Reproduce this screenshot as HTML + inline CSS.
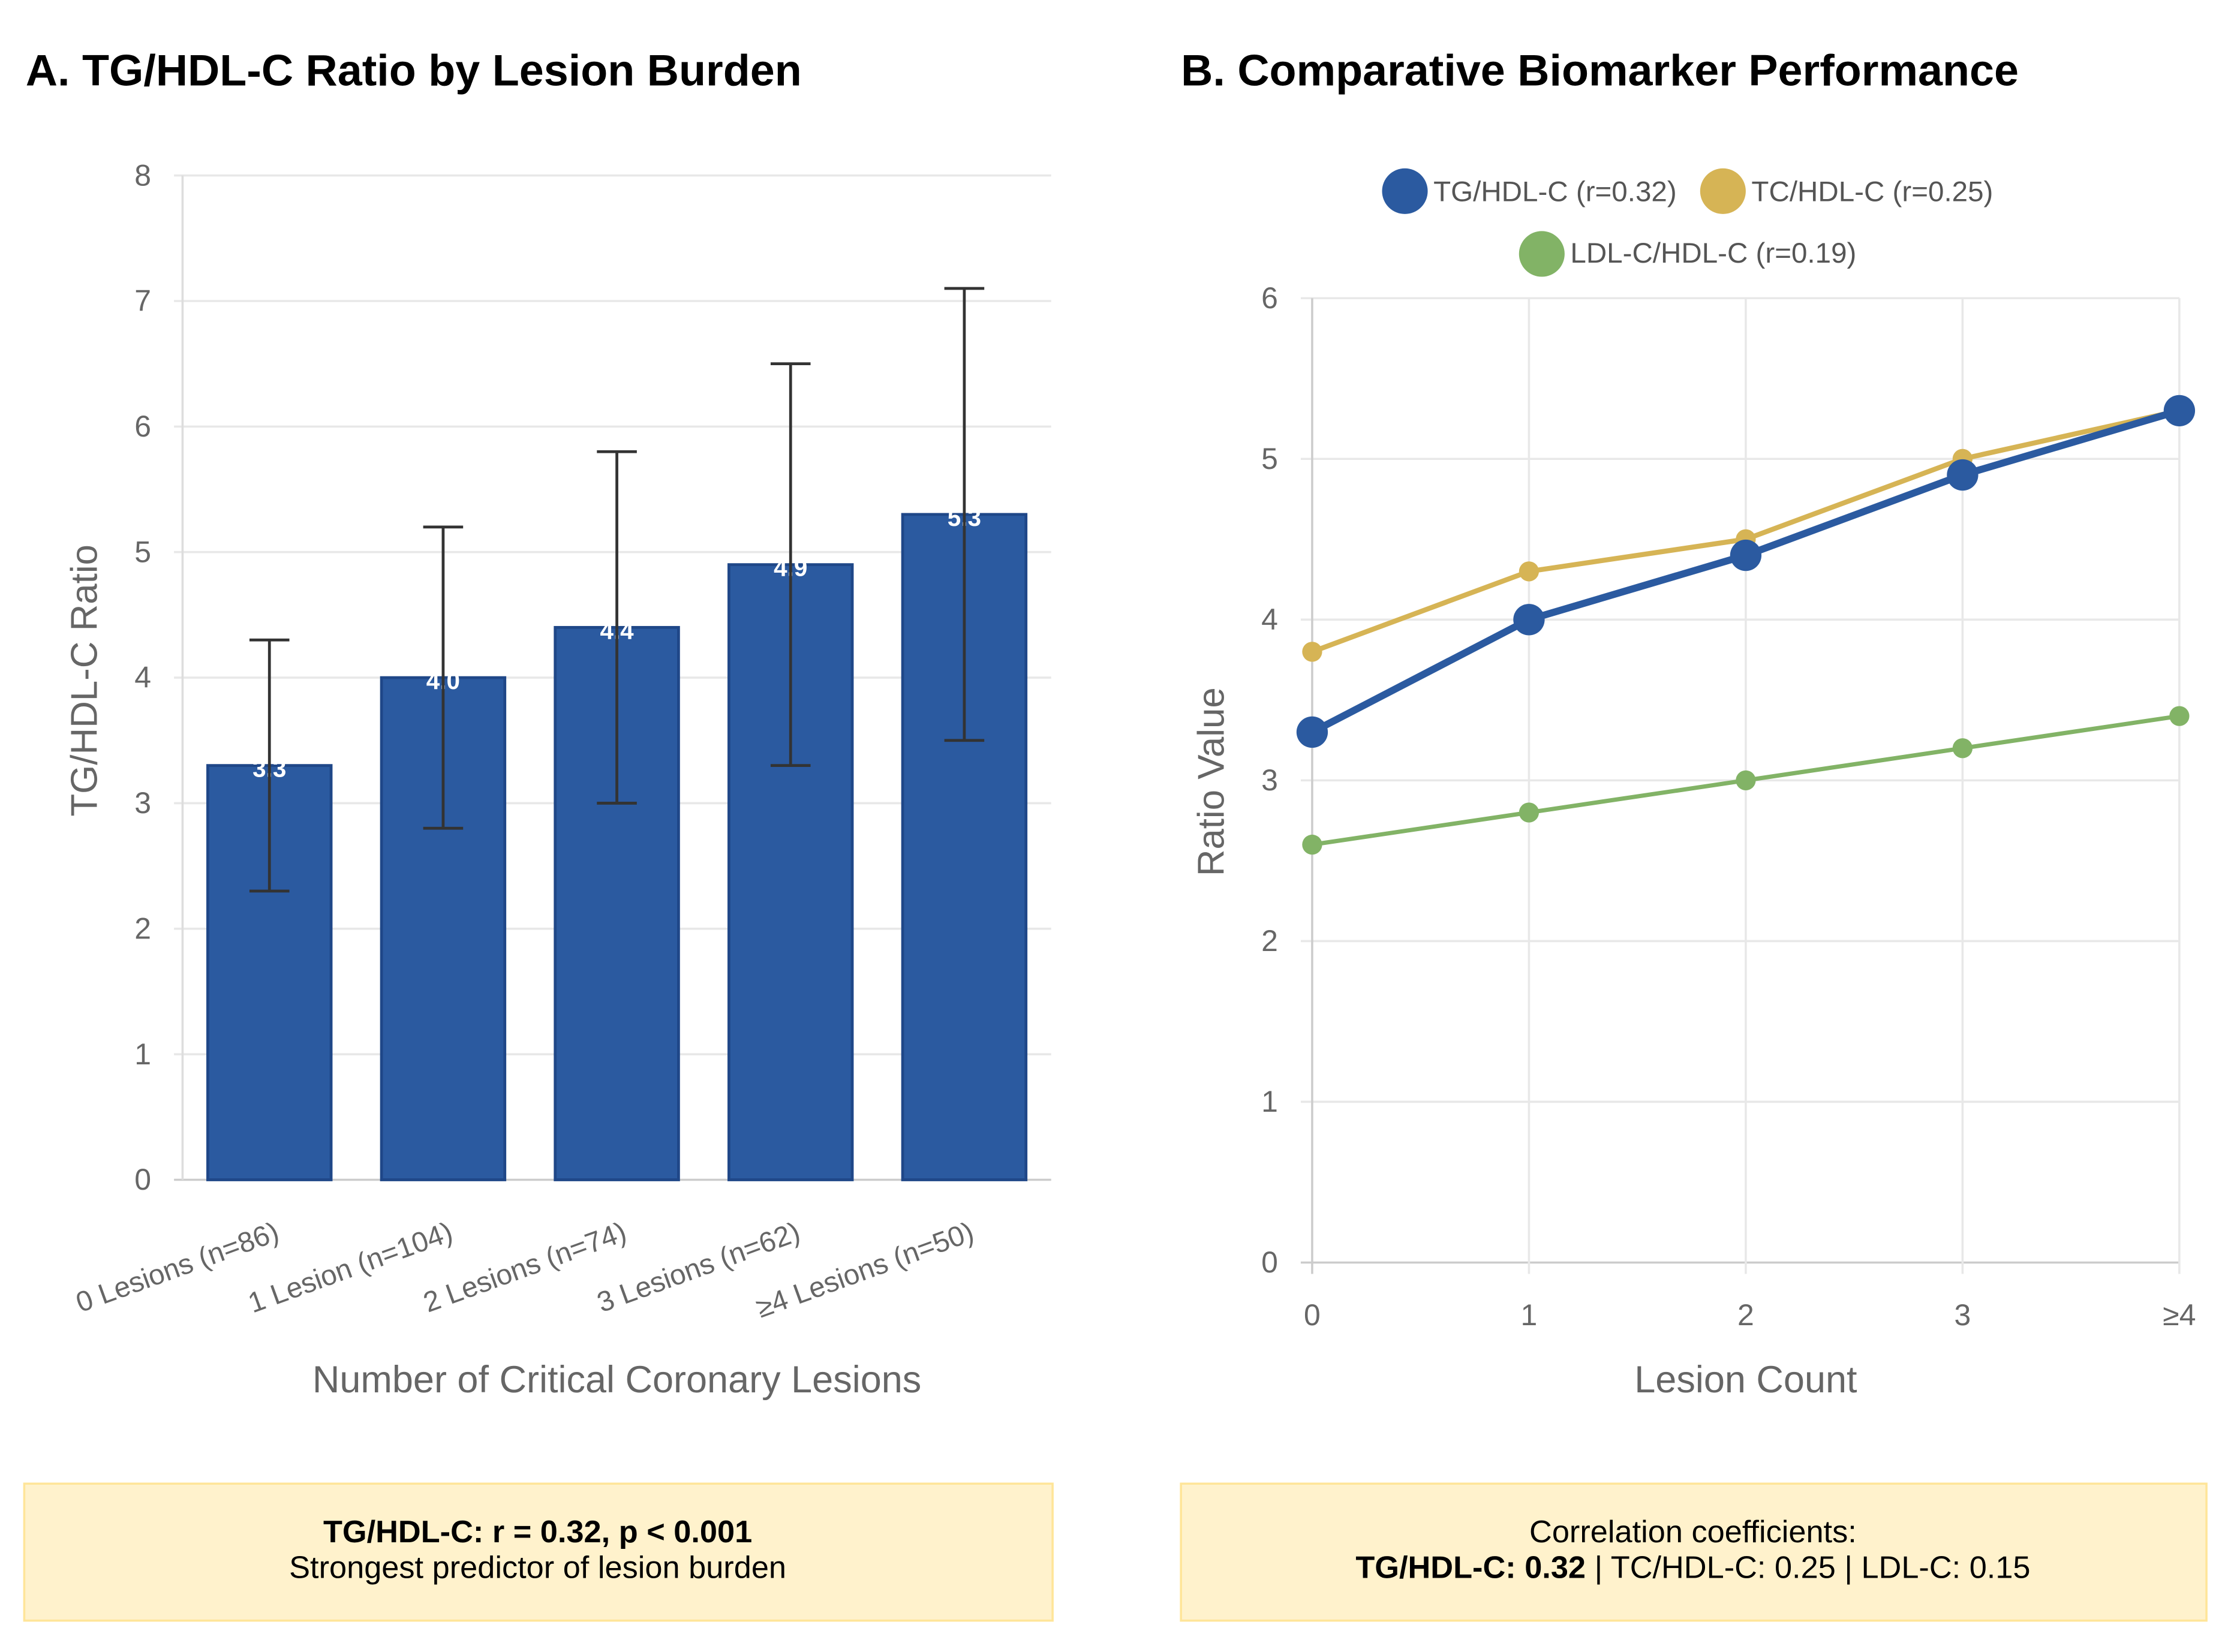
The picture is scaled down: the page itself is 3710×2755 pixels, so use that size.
<!DOCTYPE html>
<html><head><meta charset="utf-8"><style>
html,body{margin:0;padding:0;background:#fff;}
svg{display:block;font-family:"Liberation Sans",sans-serif;}
</style></head><body>
<svg id="fig" width="3710" height="2755" viewBox="0 0 1560 1158" preserveAspectRatio="none">
<text x="18" y="60" font-size="31" font-weight="bold" fill="#000">A. TG/HDL-C Ratio by Lesion Burden</text>
<text x="828" y="60" font-size="31" font-weight="bold" fill="#000">B. Comparative Biomarker Performance</text>
<g id="chartA"></g>
<g id="chartB"></g>
<g>
<g><circle cx="985" cy="134" r="16" fill="#2b5aa0"/><text x="1005" y="141" font-size="20" fill="#555">TG/HDL-C (r=0.32)</text></g>
<g><circle cx="1208" cy="134" r="16" fill="#d6b455"/><text x="1228" y="141" font-size="20" fill="#555">TC/HDL-C (r=0.25)</text></g>
<g><circle cx="1081" cy="178" r="16" fill="#82b366"/><text x="1101" y="184" font-size="20" fill="#555">LDL-C/HDL-C (r=0.19)</text></g>
</g>
<g>
<rect x="17" y="1040" width="721" height="96" fill="#fff2cc" stroke="#ffe599" stroke-width="1.5"/>
<text x="377" y="1081" text-anchor="middle" font-size="22" font-weight="bold" fill="#000">TG/HDL-C: r = 0.32, p &lt; 0.001</text>
<text x="377" y="1106" text-anchor="middle" font-size="22" fill="#000">Strongest predictor of lesion burden</text>
</g>
<g>
<rect x="828" y="1040" width="719" height="96" fill="#fff2cc" stroke="#ffe599" stroke-width="1.5"/>
<text x="1187" y="1081" text-anchor="middle" font-size="22" fill="#000">Correlation coefficients:</text>
<text x="1187" y="1106" text-anchor="middle" font-size="22" fill="#000"><tspan font-weight="bold">TG/HDL-C: 0.32</tspan> | TC/HDL-C: 0.25 | LDL-C: 0.15</text>
</g>
</svg>
<script>
const catsA = ["0 Lesions (n=86)","1 Lesion (n=104)","2 Lesions (n=74)","3 Lesions (n=62)","≥4 Lesions (n=50)"];
const meansA = [3.3,4.0,4.4,4.9,5.3];
const lowA = [2.3,2.8,3.0,3.3,3.5];
const highA = [4.3,5.2,5.8,6.5,7.1];
const ticksA = [0,1,2,3,4,5,6,7,8];
const catsB = ["0","1","2","3","≥4"];
const tgHdl = [3.3,4.0,4.4,4.9,5.3];
const tcHdl = [3.8,4.3,4.5,5.0,5.3];
const ldlHdl = [2.6,2.8,3.0,3.2,3.4];
const ticksB = [0,1,2,3,4,5,6];
const NS="http://www.w3.org/2000/svg";
function mk(p,t,a,txt){const e=document.createElementNS(NS,t);for(const k in a)e.setAttribute(k,a[k]);if(txt!==undefined)e.textContent=txt;p.appendChild(e);return e;}
// Chart A
const A=document.getElementById('chartA');
const aL=128,aR=737,aT=123,aB=827,aMax=8;
const yA=v=>aB-(v/aMax)*(aB-aT);
const bandA=(aR-aL)/catsA.length;
const xA=i=>aL+bandA*(i+0.5);
ticksA.forEach(t=>{
 const g=mk(A,'line',{x1:aL-6,x2:aR,y1:yA(t),y2:yA(t),stroke:t===0?'#ccc':'#e8e8e8','stroke-width':1.5});
 
 const l=mk(A,'text',{x:aL-22,y:yA(t)+7,'text-anchor':'end','font-size':21,fill:'#666'},String(t));
 
});
mk(A,'line',{x1:aL,x2:aL,y1:aT,y2:aB,stroke:'#ddd','stroke-width':1.5});
const bw=bandA*0.71;
meansA.forEach((v,i)=>{
 const r=mk(A,'rect',{x:xA(i)-bw/2,y:yA(v),width:bw,height:aB-yA(v),fill:'#2b5aa0',stroke:'#1f4788','stroke-width':2});
 
 const vl=mk(A,'text',{x:xA(i),y:yA(v)+8,'text-anchor':'middle','font-size':17,'font-weight':'bold',fill:'#fff'},v.toFixed(1));
 
 const eb=mk(A,'path',{d:`M${xA(i)},${yA(lowA[i])}V${yA(highA[i])}M${xA(i)-14},${yA(lowA[i])}h28M${xA(i)-14},${yA(highA[i])}h28`,stroke:'#333','stroke-width':2,fill:'none'});
 
 const xl=mk(A,'text',{x:xA(i)+8,y:aB+42,'text-anchor':'end','font-size':20,fill:'#666',transform:`rotate(-20 ${xA(i)+8} ${aB+42})`},catsA[i]);
 
});
let t1=mk(A,'text',{x:(aL+aR)/2,y:976,'text-anchor':'middle','font-size':26.5,fill:'#666'},'Number of Critical Coronary Lesions');

let t2=mk(A,'text',{x:0,y:0,'text-anchor':'middle','font-size':26,fill:'#666',transform:'translate(68 477) rotate(-90)'},'TG/HDL-C Ratio');

// Chart B
const B=document.getElementById('chartB');
const bL=920,bR=1528,bT=209,bB=885,bMax=6;
const yB=v=>bB-(v/bMax)*(bB-bT);
const xB=i=>bL+(bR-bL)*i/(catsB.length-1);
ticksB.forEach(t=>{
 const g=mk(B,'line',{x1:bL-8,x2:bR,y1:yB(t),y2:yB(t),stroke:t===0?'#ccc':'#e8e8e8','stroke-width':1.5});
 
 const l=mk(B,'text',{x:bL-24,y:yB(t)+7,'text-anchor':'end','font-size':21,fill:'#666'},String(t));
 
});
catsB.forEach((c,i)=>{
 const g=mk(B,'line',{x1:xB(i),x2:xB(i),y1:bT,y2:bB+8,stroke:i===0?'#ccc':'#e8e8e8','stroke-width':1.5});
 
 const l=mk(B,'text',{x:xB(i),y:bB+44,'text-anchor':'middle','font-size':21,fill:'#666'},c);
 
});
function series(vals,color,w,r,name){
 const ln=mk(B,'polyline',{points:vals.map((v,i)=>xB(i)+','+yB(v)).join(' '),fill:'none',stroke:color,'stroke-width':w});
 
 vals.forEach((v,i)=>{const c=mk(B,'circle',{cx:xB(i),cy:yB(v),r:r,fill:color});
 });
}
series(ldlHdl,'#82b366',3,7,'ldl-hdl');
series(tcHdl,'#d6b455',3.5,7,'tc-hdl');
series(tgHdl,'#2b5aa0',5,11,'tg-hdl');
let t3=mk(B,'text',{x:(bL+bR)/2,y:976,'text-anchor':'middle','font-size':26.5,fill:'#666'},'Lesion Count');

let t4=mk(B,'text',{x:0,y:0,'text-anchor':'middle','font-size':26,fill:'#666',transform:'translate(858 548) rotate(-90)'},'Ratio Value');

</script>
</body></html>
